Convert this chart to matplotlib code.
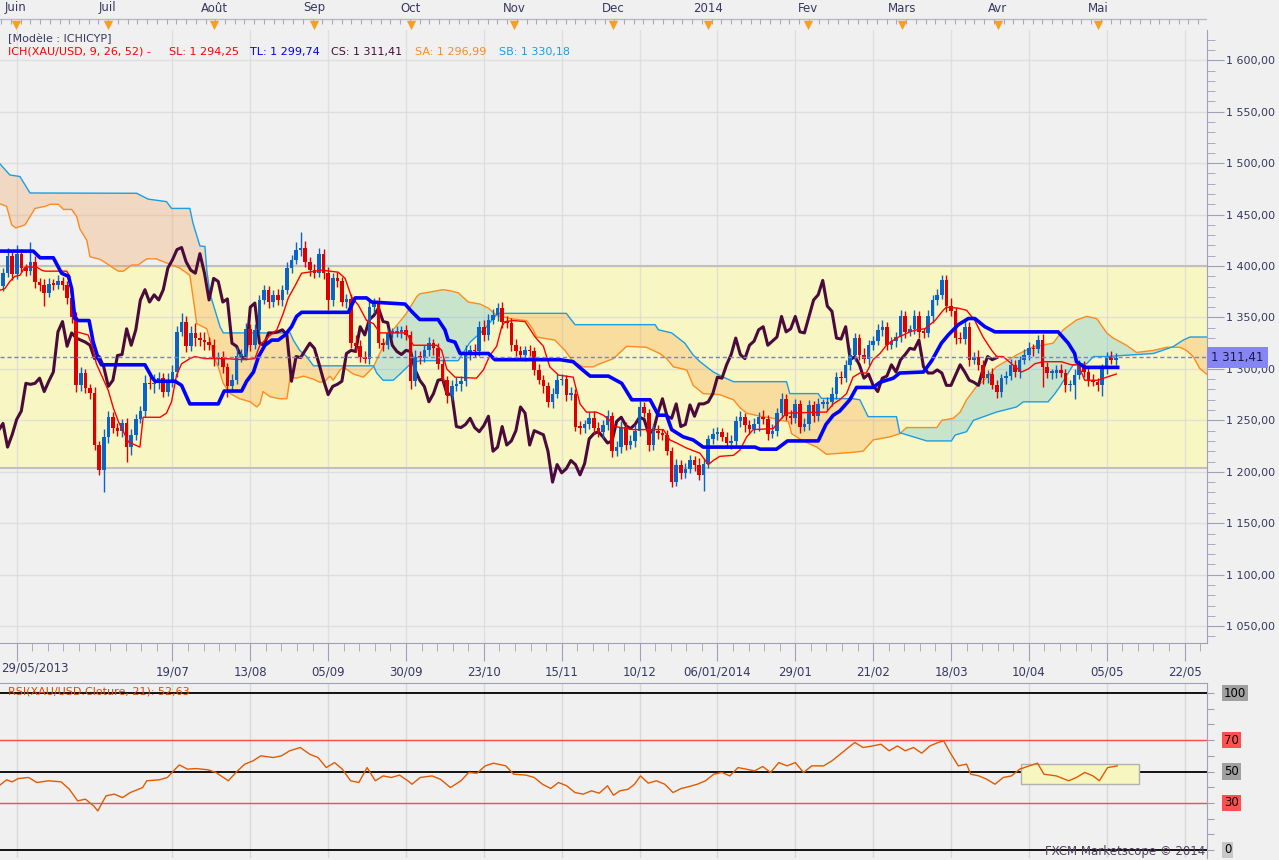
import numpy as np
import matplotlib.pyplot as plt
import matplotlib.transforms as mtransforms
from matplotlib.patches import Rectangle
from matplotlib.ticker import FuncFormatter, MultipleLocator, FixedLocator

plt.rcParams['font.family'] = ['DejaVu Sans']

# ---- data (XAU/USD daily, bar 0 = 29/05/2013) ----
closes = [
    1393, 1410, 1392, 1412, 1398, 1395, 1404, 1384, 1382, 1374,
    1383, 1382, 1385, 1382, 1369, 1350, 1284, 1296, 1281, 1277,
    1226, 1202, 1234, 1253, 1243, 1240, 1247, 1224, 1236, 1251,
    1259, 1286, 1285, 1286, 1291, 1278, 1288, 1297, 1336, 1346,
    1322, 1335, 1330, 1328, 1326, 1323, 1310, 1312, 1302, 1283,
    1289, 1313, 1314, 1339, 1323, 1338, 1367, 1377, 1365, 1372,
    1367, 1377, 1398, 1406, 1416, 1418, 1404, 1396, 1393, 1412,
    1393, 1367, 1388, 1385, 1365, 1368, 1325, 1322, 1312, 1310,
    1360, 1364, 1325, 1323, 1335, 1335, 1336, 1338, 1333, 1288,
    1312, 1311, 1318, 1325, 1320, 1305, 1289, 1275, 1283, 1285,
    1288, 1315, 1318, 1317, 1341, 1333, 1348, 1352, 1359, 1346,
    1345, 1323, 1317, 1314, 1318, 1317, 1299, 1289, 1283, 1268,
    1276, 1289, 1290, 1275, 1276, 1244, 1243, 1246, 1252, 1243,
    1239, 1245, 1254, 1220, 1224, 1244, 1226, 1230, 1240, 1263,
    1257, 1226, 1240, 1238, 1236, 1220, 1190, 1207, 1199, 1203,
    1211, 1207, 1197, 1208, 1232, 1237, 1239, 1234, 1228, 1230,
    1249, 1253, 1245, 1242, 1246, 1253, 1251, 1237, 1240, 1257,
    1271, 1254, 1252, 1266, 1244, 1246, 1265, 1254, 1266, 1266,
    1268, 1276, 1292, 1291, 1304, 1314, 1330, 1314, 1310, 1323,
    1327, 1338, 1341, 1323, 1327, 1331, 1351, 1336, 1339, 1351,
    1336, 1335, 1351, 1367, 1372, 1386, 1361, 1356, 1330, 1329,
    1341, 1309, 1312, 1304, 1291, 1295, 1284, 1278, 1291, 1293,
    1304, 1297, 1309, 1314, 1320, 1319, 1328, 1302, 1296, 1296,
    1299, 1296, 1284, 1284, 1294, 1304, 1297, 1289, 1287, 1284,
    1300, 1312, 1309, 1311,
]
opens = [
    1381, 1393, 1410, 1392, 1412, 1398, 1395, 1404, 1384, 1382,
    1374, 1383, 1382, 1385, 1382, 1369, 1350, 1284, 1296, 1281,
    1277, 1226, 1202, 1234, 1253, 1243, 1240, 1247, 1224, 1236,
    1251, 1259, 1286, 1285, 1286, 1291, 1278, 1288, 1297, 1336,
    1346, 1322, 1335, 1330, 1328, 1326, 1323, 1310, 1312, 1302,
    1283, 1289, 1313, 1314, 1339, 1323, 1338, 1367, 1377, 1365,
    1372, 1367, 1377, 1398, 1406, 1416, 1418, 1404, 1396, 1393,
    1412, 1393, 1367, 1388, 1385, 1365, 1368, 1325, 1322, 1312,
    1310, 1360, 1364, 1325, 1323, 1335, 1335, 1336, 1338, 1333,
    1288, 1312, 1311, 1318, 1325, 1320, 1305, 1289, 1275, 1283,
    1285, 1288, 1315, 1318, 1317, 1341, 1333, 1348, 1352, 1359,
    1346, 1345, 1323, 1317, 1314, 1318, 1317, 1299, 1289, 1283,
    1268, 1276, 1289, 1290, 1275, 1276, 1244, 1243, 1246, 1252,
    1243, 1239, 1245, 1254, 1220, 1224, 1244, 1226, 1230, 1240,
    1263, 1257, 1226, 1240, 1238, 1236, 1220, 1190, 1207, 1199,
    1203, 1211, 1207, 1197, 1208, 1232, 1237, 1239, 1234, 1228,
    1230, 1249, 1253, 1245, 1242, 1246, 1253, 1251, 1237, 1240,
    1257, 1271, 1254, 1252, 1266, 1244, 1246, 1265, 1254, 1266,
    1266, 1268, 1276, 1292, 1291, 1304, 1314, 1330, 1314, 1310,
    1323, 1327, 1338, 1341, 1323, 1327, 1331, 1351, 1336, 1339,
    1351, 1336, 1335, 1351, 1367, 1372, 1386, 1361, 1356, 1330,
    1329, 1341, 1309, 1312, 1304, 1291, 1295, 1284, 1278, 1291,
    1293, 1304, 1297, 1309, 1314, 1320, 1319, 1328, 1302, 1296,
    1296, 1299, 1296, 1284, 1284, 1294, 1304, 1297, 1289, 1287,
    1284, 1300, 1312, 1309,
]
# wick lengths above the body top / below the body bottom
upper_wick = [
    5, 8, 4, 8, 5, 4, 19, 6, 4, 5,   5, 4, 6, 4, 3, 4, 5, 6, 4, 4,
    5, 4, 8, 6, 5, 4, 4, 5, 6, 5,    5, 8, 10, 9, 6, 5, 8, 7, 6, 8,
    5, 7, 10, 6, 8, 5, 6, 4, 5, 4,   6, 8, 5, 6, 5, 6, 5, 5, 4, 5,
    6, 5, 6, 5, 7, 15, 6, 5, 6, 6,   5, 6, 5, 6, 4, 5, 5, 8, 6, 5,
    6, 5, 6, 5, 4, 5, 6, 4, 5, 4,    6, 5, 5, 6, 4, 5, 5, 4, 6, 7,
    5, 8, 5, 6, 6, 7, 5, 6, 5, 6,    5, 4, 6, 5, 4, 5, 4, 6, 5, 4,
    5, 6, 5, 4, 6, 4, 5, 4, 6, 7,    5, 5, 6, 4, 6, 5, 4, 6, 5, 6,
    5, 4, 6, 5, 4, 5, 4, 5, 4, 6,    5, 4, 6, 5, 4, 6, 5, 4, 5, 6,
    5, 6, 4, 5, 6, 5, 7, 4, 6, 5,    6, 5, 6, 5, 4, 6, 5, 4, 6, 5,
    5, 6, 5, 6, 5, 6, 5, 4, 6, 5,    5, 6, 7, 5, 4, 5, 6, 5, 4, 6,
    5, 4, 6, 5, 6, 5, 5, 8, 4, 6,    6, 5, 4, 6, 5, 4, 6, 5, 4, 5,
    6, 5, 4, 5, 6, 4, 5, 6, 5, 4,    5, 6, 4, 5, 6, 5, 4, 5, 6, 4,
    5, 4, 5, 4,
]
lower_wick = [
    5, 4, 6, 5, 4, 5, 4, 5, 6, 13,   4, 5, 4, 5, 6, 5, 6, 5, 4, 6,
    5, 5, 22, 6, 5, 5, 6, 14, 8, 5,  4, 6, 5, 8, 6, 5, 4, 6, 5, 4,
    6, 5, 8, 6, 8, 5, 7, 6, 6, 10,   5, 4, 6, 5, 6, 4, 5, 4, 6, 5,
    5, 6, 4, 5, 4, 6, 5, 6, 5, 4,    6, 10, 6, 5, 4, 6, 5, 6, 5, 4,
    5, 6, 5, 6, 4, 5, 4, 6, 5, 8,    5, 6, 4, 5, 6, 5, 4, 8, 5, 4,
    6, 5, 6, 5, 4, 6, 5, 4, 5, 6,    5, 6, 4, 5, 6, 4, 5, 4, 6, 5,
    6, 4, 5, 6, 5, 4, 6, 5, 4, 6,    5, 6, 4, 6, 5, 6, 5, 4, 6, 5,
    4, 6, 5, 6, 5, 4, 5, 4, 6, 5,    4, 6, 5, 16, 4, 5, 6, 4, 5, 6,
    4, 5, 6, 5, 4, 6, 5, 6, 4, 5,    5, 4, 6, 5, 6, 4, 5, 6, 5, 4,
    6, 4, 5, 6, 4, 5, 6, 5, 4, 6,    5, 4, 6, 5, 4, 6, 5, 6, 4, 5,
    6, 5, 4, 6, 5, 4, 6, 5, 6, 4,    5, 6, 4, 5, 6, 5, 4, 6, 5, 6,
    4, 5, 6, 4, 5, 6, 4, 20, 5, 6,   5, 4, 6, 5, 13, 4, 5, 6, 4, 5,
    10, 5, 4, 5,
]

# Ichimoku lines (bar, price)
tenkan = [(-1, 1376), (0.4, 1378), (1.5, 1385), (2.6, 1390), (3.7, 1391), (4.8, 1399), (7.4, 1399),
          (8.4, 1396), (9.2, 1395), (13.9, 1395), (14.6, 1390), (15.4, 1352), (16.1, 1336), (18.6, 1333),
          (19.4, 1323), (20.4, 1305), (21.5, 1294), (23, 1279), (24.1, 1262), (25.2, 1249), (26.3, 1239),
          (27.4, 1229), (29.9, 1224), (30.6, 1253), (34.3, 1253), (35.7, 1257), (36.8, 1268), (37.9, 1294),
          (39, 1305), (40.8, 1310), (41.9, 1312), (44.1, 1310), (48.5, 1310), (52.5, 1309), (55, 1310),
          (56.1, 1323), (57.9, 1331), (59.8, 1338), (61.2, 1354), (62.3, 1369), (63.8, 1381), (65.2, 1393),
          (66.7, 1394), (69.6, 1396), (73.2, 1394), (74.7, 1388), (76.1, 1370), (77.6, 1362), (79.4, 1347),
          (80.9, 1344), (82.3, 1335), (88.1, 1335), (89.6, 1323), (94.7, 1323), (95.8, 1318), (96.9, 1300),
          (98.7, 1292), (103.4, 1291), (104.9, 1299), (106.3, 1313), (107.8, 1322), (108.9, 1341),
          (109.6, 1346), (111.4, 1347), (114, 1346), (116.2, 1331), (118, 1322), (119.4, 1302),
          (121.3, 1294), (124.5, 1292), (126, 1266), (127.4, 1258), (129.6, 1258), (131.1, 1255),
          (132.5, 1250), (133.6, 1244), (137.6, 1241), (144.2, 1241), (145.6, 1231), (147.1, 1228),
          (149.3, 1223), (152.2, 1218), (154, 1207), (155.1, 1211), (156.5, 1215), (159.5, 1216),
          (160.9, 1221), (162.4, 1234), (163.8, 1241), (168.2, 1242), (169.6, 1250), (171.1, 1257),
          (178.4, 1258), (179.8, 1258), (181.3, 1266), (182.7, 1270), (184.2, 1276), (185.6, 1292),
          (187.1, 1296), (188.5, 1296), (190, 1309), (191.5, 1315), (192.9, 1323), (195.1, 1330),
          (196.6, 1333), (198, 1336), (199.5, 1338), (201.3, 1339), (203.5, 1347), (205.3, 1357),
          (206, 1360), (208.6, 1359), (210.4, 1357), (212.2, 1347), (214, 1331), (215.9, 1318),
          (217, 1312), (218.4, 1312), (220.2, 1305), (222.4, 1297), (223.9, 1300), (225.3, 1305),
          (227.1, 1307), (231.1, 1307), (233.3, 1304), (234.8, 1304), (236.2, 1289), (239.1, 1289),
          (241, 1292), (243.1, 1295)]
kijun = [(-1, 1414.5), (6.6, 1414.5), (8.1, 1408), (11, 1408), (12.8, 1393), (14.3, 1390), (15, 1378),
         (15.7, 1349), (16.5, 1347), (18.8, 1347), (19.7, 1326), (20.8, 1310), (21.5, 1304), (31, 1304),
         (32.5, 1292), (33.2, 1288), (37.6, 1288), (39, 1284), (40.8, 1266), (47, 1266), (48.3, 1278.5),
         (52.1, 1278.5), (53.2, 1288), (54.7, 1297), (55.8, 1312), (57.2, 1323), (58.7, 1328), (60.1, 1328),
         (61.6, 1333), (63, 1341), (64.1, 1351), (65.2, 1355), (75.4, 1355), (76.9, 1369), (79.4, 1369),
         (80.5, 1365), (87.8, 1363), (89.2, 1356), (91, 1348), (95, 1348), (96.5, 1338), (97.2, 1328),
         (98.7, 1326), (99.8, 1315), (106, 1315), (107.4, 1309), (121.6, 1309), (124.5, 1307),
         (126.3, 1300), (128.2, 1293), (132.2, 1293), (135.1, 1286), (137.3, 1270), (141.3, 1270),
         (143.1, 1255), (144.9, 1255), (146, 1241), (148.5, 1234), (150.7, 1231), (152.9, 1224),
         (164.2, 1224), (165.3, 1222), (168.9, 1222), (171.3, 1230), (178, 1230), (179.7, 1246),
         (181.3, 1255), (182.7, 1259), (184.9, 1270), (186.4, 1282), (190, 1282), (191.5, 1287),
         (194.4, 1291), (195.8, 1296), (201, 1297), (202.8, 1308), (204.9, 1325), (206.4, 1333),
         (208.6, 1343), (210.8, 1349), (212.2, 1349), (214.4, 1341), (216.6, 1336), (230.4, 1336),
         (232.6, 1325), (234, 1315), (234.4, 1307), (236.2, 1301.5), (243.4, 1301.5)]
senkou_a = [(-1, 1461), (0.8, 1458), (1.9, 1440), (2.8, 1437), (4.8, 1440), (5.9, 1448), (7, 1456),
            (9.2, 1458), (10.3, 1460), (12.1, 1460), (13.2, 1455), (15, 1455), (16.1, 1448), (16.8, 1436),
            (18.3, 1425), (19, 1409), (21.2, 1406.5), (22.6, 1402.6), (24.1, 1398), (25.2, 1395),
            (26.3, 1395), (28.1, 1401), (29.5, 1401), (31.4, 1407), (33.5, 1407), (35.7, 1403),
            (38.6, 1398), (40.8, 1391), (41.5, 1370), (42.3, 1344), (44.5, 1339), (45.2, 1328), (46, 1312),
            (47, 1302), (48.1, 1286), (49.6, 1276), (51.7, 1271), (54, 1268), (55.4, 1263), (56.1, 1266),
            (56.8, 1278), (58.3, 1273), (60.5, 1271), (62, 1271), (62.7, 1292), (64.1, 1291), (65.6, 1293),
            (67.8, 1290), (69.2, 1287), (70.3, 1288), (71.4, 1293), (72.1, 1289), (73.6, 1299),
            (74.3, 1302), (76.5, 1295), (78.7, 1292), (80.9, 1302), (83, 1322), (85.2, 1338), (88.1, 1354),
            (90.3, 1370), (91, 1373), (96.1, 1377), (97.6, 1376), (99.4, 1374), (101.6, 1365),
            (104.2, 1363), (106, 1359), (107.8, 1352), (110.7, 1349), (112.2, 1348), (114.3, 1347),
            (115.8, 1338), (116.5, 1331), (120.5, 1328), (122.7, 1318), (124.5, 1307), (126.7, 1302),
            (128.9, 1302), (130.3, 1305), (133.3, 1310), (136.2, 1322), (140.5, 1321), (143.4, 1315),
            (144.9, 1310), (146.4, 1302), (149.3, 1299), (150.7, 1284), (152.9, 1276), (156.5, 1275),
            (159.5, 1270), (161, 1262), (162.4, 1257), (165.3, 1254), (168.2, 1252), (169.6, 1250),
            (171.5, 1249), (172.2, 1237), (174.7, 1230), (177.7, 1224), (179.8, 1217), (182.7, 1218),
            (185.7, 1219), (187.8, 1220), (190, 1231), (193.7, 1234), (195.8, 1237), (197.3, 1243),
            (203.9, 1243), (205, 1250), (207.5, 1252), (209, 1258), (210.4, 1270), (212.6, 1283),
            (214, 1288), (216.9, 1302), (221.3, 1313.5), (225, 1321.6), (229.3, 1325), (231.5, 1338),
            (234.4, 1347.5), (236.6, 1351), (238.8, 1349), (241, 1335), (242.4, 1330), (245.3, 1323),
            (247.5, 1316), (251.2, 1318), (254.1, 1321), (257, 1321), (258.4, 1318), (259.9, 1312),
            (261.3, 1300.5), (262.8, 1295), (264, 1292)]
senkou_b = [(-1, 1501), (1.5, 1488.5), (3.7, 1487), (5.9, 1471), (29.2, 1470.7), (31.7, 1465),
            (35.7, 1462.6), (36.8, 1456), (40.8, 1456), (41.5, 1441.5), (43, 1419.5), (44.1, 1419),
            (44.5, 1396), (45.2, 1373), (46.3, 1357), (47.4, 1341), (48.1, 1335), (62.7, 1335), (63.4, 1328),
            (64.8, 1318), (66.3, 1312), (67.8, 1303), (80.9, 1303), (81.6, 1296), (83, 1289), (85.2, 1289),
            (86.7, 1295), (89, 1305), (91, 1308), (99.4, 1308), (102, 1326), (105, 1338), (108, 1354),
            (123, 1354), (124.9, 1343), (142.4, 1343), (143.1, 1338), (146, 1335), (148.9, 1325),
            (150.7, 1313.5), (152.2, 1307), (155.1, 1297), (157.3, 1292), (159.5, 1287.6), (171.1, 1287.6),
            (171.8, 1276), (178, 1276), (178.7, 1271.4), (185.6, 1271), (187.1, 1270), (188.9, 1253.6),
            (195.1, 1253.6), (195.8, 1238), (201.7, 1230), (207.1, 1230), (207.9, 1235.7), (210.4, 1239),
            (211.9, 1250), (216.9, 1258), (221.3, 1263), (222.8, 1268), (228.2, 1268), (229.7, 1276),
            (230.8, 1283), (233.7, 1304), (236.6, 1305), (238.1, 1312), (241, 1312), (246, 1313.5),
            (251.2, 1315), (255.5, 1321.6), (257.7, 1328), (259.2, 1331), (264, 1331)]

# RSI(21) (bar, value)
rsi = [(-0.7, 41.3), (0.8, 44.7), (2.0, 43.4), (3.3, 45.5), (5.6, 46.2), (7.4, 43.0), (10.0, 44.1),
       (12.7, 43.4), (14.5, 38.7), (16.3, 31.3), (18.0, 32.4), (19.8, 28.1), (20.7, 24.9), (22.5, 34.5),
       (24.3, 35.6), (26.1, 33.4), (27.8, 36.6), (30.5, 39.8), (31.4, 44.1), (34.1, 44.7), (35.9, 46.2),
       (37.6, 51.5), (38.5, 54.2), (40.3, 51.5), (42.1, 51.9), (44.8, 51.1), (46.5, 49.4), (49.2, 44.1),
       (51.0, 49.8), (52.8, 54.7), (54.6, 56.8), (56.3, 60.0), (59.0, 58.9), (60.8, 60.0), (62.6, 63.2),
       (64.9, 65.3), (67.0, 61.0), (68.8, 58.9), (70.6, 52.5), (72.4, 55.7), (74.1, 51.5), (75.9, 44.1),
       (77.7, 43.0), (79.5, 52.5), (81.3, 44.1), (83.0, 47.2), (84.8, 46.2), (86.6, 47.7), (88.4, 44.1),
       (89.3, 41.9), (91.1, 46.2), (93.7, 47.2), (95.5, 45.1), (97.7, 39.8), (100.0, 44.1), (101.7, 49.4),
       (103.5, 48.9), (105.3, 53.6), (107.1, 55.3), (109.8, 53.6), (111.5, 48.3), (114.2, 47.7),
       (116.0, 46.2), (117.8, 41.9), (119.6, 39.2), (121.3, 43.0), (123.1, 40.9), (124.9, 36.6),
       (126.7, 35.6), (128.5, 37.7), (130.2, 36.2), (132.0, 40.9), (133.3, 34.9), (134.7, 37.7),
       (136.5, 38.7), (137.9, 41.9), (139.2, 47.2), (140.9, 42.6), (142.7, 44.1), (144.5, 41.9),
       (146.3, 36.6), (148.1, 39.2), (149.8, 40.4), (151.6, 41.9), (153.4, 44.1), (155.2, 48.3),
       (157.0, 49.4), (158.7, 47.2), (160.5, 52.5), (162.3, 51.5), (164.1, 50.4), (165.9, 53.2),
       (167.6, 49.4), (169.4, 55.7), (171.2, 53.6), (173.0, 55.7), (174.8, 49.4), (176.6, 53.6),
       (179.2, 53.6), (181.0, 56.8), (182.8, 61.0), (184.6, 65.3), (186.0, 68.5), (187.8, 65.3),
       (189.9, 66.3), (191.7, 67.4), (193.5, 63.2), (195.3, 66.3), (197.0, 63.2), (198.8, 65.3),
       (200.6, 61.7), (202.4, 66.3), (204.2, 68.5), (205.4, 69.5), (206.8, 62.1), (208.6, 53.6),
       (210.4, 54.7), (211.3, 48.3), (213.1, 47.2), (214.8, 45.1), (216.6, 41.9), (218.4, 46.2),
       (220.2, 47.2), (222.0, 51.5), (224.1, 53.6), (225.9, 55.3), (227.3, 48.3), (230.0, 47.2),
       (232.7, 44.1), (234.4, 46.2), (236.2, 49.4), (238.0, 47.2), (239.4, 44.1), (241.2, 52.5),
       (243.3, 53.6)]

date_ticks = [3, 37, 54, 71, 88, 105, 122, 139, 156, 173, 190, 207, 224, 241, 258]
date_labels = ['', '19/07', '13/08', '05/09', '30/09', '23/10', '15/11', '10/12', '06/01/2014',
               '29/01', '21/02', '18/03', '10/04', '05/05', '22/05']
month_pos = [2.8, 22.9, 46.1, 67.9, 89.1, 111.6, 133.2, 153.9, 175.8, 196.3, 217.2, 239.1]
month_names = ['Juin', 'Juil', 'Août', 'Sep', 'Oct', 'Nov', 'Dec', '2014', 'Fev', 'Mars', 'Avr', 'Mai']

last_close = 1311.41
shift = 26
XLIM = (-0.65, 262.9)

# ---- figure layout (pixel boxes) ----
W, H = 1279, 860
BG = '#f0f0f0'
AXC = '#a0a0b8'
TXT = '#383860'
fig = plt.figure(figsize=(W / 100, H / 100), dpi=100, facecolor=BG)


def box(l, t, r, b):
    return [l / W, 1 - b / H, (r - l) / W, (b - t) / H]


ax_top = fig.add_axes(box(0, 0, 1207, 30))
ax = fig.add_axes(box(0, 30, 1207, 643))
ax_r = fig.add_axes(box(0, 683, 1207, 858))

# ---- month strip ----
ax_top.set_facecolor(BG)
ax_top.set_xlim(*XLIM)
ax_top.set_ylim(30, 0)
ax_top.axis('off')
ax_top.axhline(19, color='#b8b8c8', lw=1)
ax_top.vlines(np.arange(-0.4, 263, 2.125), 19, 23.5, color='#a8a8b8', lw=0.8)
for mx, mn in zip(month_pos, month_names):
    ax_top.text(mx, 8, mn, ha='center', va='center', fontsize=8.5, color=TXT)
ax_top.scatter(month_pos, [24.5] * len(month_pos), marker='v', s=45, color='#f5a01e', zorder=3, lw=0)

# ---- main price panel ----
ax.set_facecolor(BG)
ax.set_xlim(*XLIM)
ax.set_ylim(1033.6, 1629.4)
ax.axhspan(1204, 1400, color='#f8f6c2', zorder=0.3, lw=0)
for v in range(1050, 1601, 50):
    ax.axhline(v, color='#d8d8d8', lw=1, zorder=0.5, alpha=0.7)
for b in date_ticks:
    ax.axvline(b, color='#d8d8d8', lw=1, zorder=0.5, alpha=0.7)
ax.axhline(1400, color='#c0c0c0', lw=1.5, zorder=0.6)
ax.axhline(1204, color='#c0c0c0', lw=1.5, zorder=0.6)

# cloud
ax_x, ax_y = np.array(senkou_a).T
bx_x, bx_y = np.array(senkou_b).T
xs = np.union1d(ax_x, bx_x)
sa = np.interp(xs, ax_x, ax_y)
sb = np.interp(xs, bx_x, bx_y)
ax.fill_between(xs, sa, sb, where=sa >= sb, interpolate=True, color='#1eadef', alpha=0.22, lw=0, zorder=1)
ax.fill_between(xs, sa, sb, where=sa < sb, interpolate=True, color='#f98625', alpha=0.22, lw=0, zorder=1)
ax.plot(ax_x, ax_y, color='#ff8a1e', lw=1, zorder=1.5)
ax.plot(bx_x, bx_y, color='#1a9ee6', lw=1, zorder=1.5)

# chikou span
bars = np.arange(len(closes))
ax.plot(bars - shift, closes, color='#4a0a3c', lw=2.2, zorder=2)

# candles
o = np.array(opens, float)
c = np.array(closes, float)
hi = np.maximum(o, c) + np.array(upper_wick)
lo = np.minimum(o, c) - np.array(lower_wick)
cols = np.where(c >= o, '#0a64c8', '#dc0000')
ax.vlines(bars, lo, hi, colors=cols, lw=1, zorder=3)
ax.bar(bars, np.maximum(np.abs(c - o), 1.5), bottom=np.minimum(o, c), width=0.78,
       color=cols, lw=0, zorder=3.1)

tx, ty = np.array(tenkan).T
kx, ky = np.array(kijun).T
ax.plot(tx, ty, color='#ff0000', lw=1, zorder=4)
ax.plot(kx, ky, color='#0000ff', lw=2.6, zorder=4.2)
ax.axhline(last_close, color='#7878ff', lw=1, ls=(0, (3, 2)), zorder=4.5)

for s in ['left', 'top']:
    ax.spines[s].set_visible(False)
for s in ['right', 'bottom']:
    ax.spines[s].set_color(AXC)
ax.yaxis.tick_right()
ax.set_yticks(range(1050, 1601, 50))
ax.yaxis.set_minor_locator(MultipleLocator(10))
ax.yaxis.set_major_formatter(FuncFormatter(
    lambda v, p: f"{v:,.2f}".replace(',', ' ').replace('.', ',')))
ax.tick_params(axis='y', which='major', direction='out', length=12, color=AXC,
               labelsize=8, labelcolor=TXT, pad=2)
ax.tick_params(axis='y', which='minor', direction='out', length=6, color=AXC)
ax.set_xticks(date_ticks)
ax.set_xticklabels(date_labels)
ax.xaxis.set_minor_locator(FixedLocator(np.arange(3, 263, 3.4)))
ax.tick_params(axis='x', which='major', direction='out', length=13, color=AXC,
               labelsize=8.5, labelcolor=TXT, pad=3)
ax.tick_params(axis='x', which='minor', direction='out', length=6, color=AXC)
fig.text(1 / W, 1 - 668 / H, '29/05/2013', ha='left', va='center', fontsize=8.5, color=TXT)

price_tr = mtransforms.blended_transform_factory(ax.transAxes, ax.transData)
ax.text(1 + 4 / 1207, last_close, '1 311,41', transform=price_tr, ha='left', va='center',
        fontsize=8.5, color='#1a1a40', zorder=6, clip_on=False,
        bbox=dict(boxstyle='square,pad=0.35', fc='#8585f5', ec='none'))

# legend texts
fig.text(8 / W, 1 - 39 / H, '[Modèle : ICHICYP]', fontsize=8, color=TXT, va='center')
legend_parts = [(8, 'ICH(XAU/USD, 9, 26, 52) -', '#ff0000'), (169, 'SL: 1 294,25', '#ff0000'),
                (250, 'TL: 1 299,74', '#0000ff'), (331, 'CS: 1 311,41', '#4a0a3c'),
                (415, 'SA: 1 296,99', '#ff8a1e'), (499, 'SB: 1 330,18', '#1a9ee6')]
for px, txt, col in legend_parts:
    fig.text(px / W, 1 - 52 / H, txt, fontsize=8, color=col, va='center')

# ---- RSI panel ----
rx, ry = np.array(rsi).T
ax_r.set_facecolor(BG)
ax_r.set_xlim(*XLIM)
ax_r.set_ylim(-5.1, 106.4)
for b in date_ticks:
    ax_r.axvline(b, color='#d8d8d8', lw=1, zorder=0.5)
for lvl in (100, 50, 0):
    ax_r.axhline(lvl, color='#000000', lw=1.3, zorder=1)
for lvl in (70, 30):
    ax_r.axhline(lvl, color='#ff4848', lw=1, zorder=1)
ax_r.add_patch(Rectangle((222.3, 42), 25.7, 13, fc='#f8f6c0', ec='#b0b0b0', lw=1, zorder=1.5))
ax_r.plot(rx, ry, color='#e05a00', lw=1, zorder=3)
for s in ['left', 'bottom']:
    ax_r.spines[s].set_visible(False)
for s in ['right', 'top']:
    ax_r.spines[s].set_color(AXC)
ax_r.set_xticks([])
ax_r.yaxis.tick_right()
ax_r.set_yticks(range(0, 101, 10))
ax_r.tick_params(axis='y', direction='out', length=5, color=AXC, labelright=False)
rsi_tr = mtransforms.blended_transform_factory(ax_r.transAxes, ax_r.transData)
for lvl, fc in [(100, '#a0a0a0'), (70, '#ff5050'), (50, '#a0a0a0'), (30, '#ff5050'), (0, '#c8c8c8')]:
    ax_r.text(1 + 17 / 1207, lvl, str(lvl), transform=rsi_tr, ha='left', va='center', fontsize=8.5,
              color='#000000', clip_on=False, bbox=dict(boxstyle='square,pad=0.15', fc=fc, ec='none'))
fig.text(8 / W, 1 - 691 / H, 'RSI(XAU/USD.Cloture, 21): 52,63', fontsize=8, color='#e04a00', va='center')
fig.text(1205 / W, 1 - 851 / H, 'FXCM Marketscope © 2014', ha='right', va='center',
         fontsize=8.5, color='#504060')

fig.savefig('out.png', dpi=100, facecolor=BG)
